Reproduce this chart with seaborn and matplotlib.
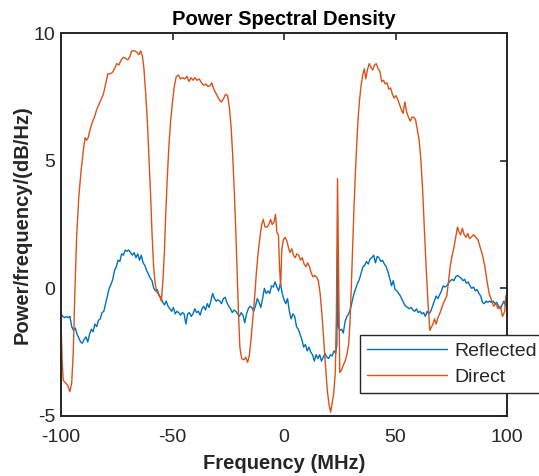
import matplotlib
matplotlib.use("Agg")
import matplotlib.pyplot as plt
import seaborn as sns
import pandas as pd

# ---------------- data ----------------
direct_x = [-100, -99.5, -99, -98, -97, -96, -95.2, -94.5, -93.8, -93, -92, -91, -90, -89.2, -88.5,
            -87.8, -87, -86, -85, -84, -83, -82, -81, -80, -79, -78, -77, -76, -75, -74, -73, -72,
            -71, -70, -69, -68.3, -67, -66, -65, -64.3, -63.5, -62.8, -62, -61.2, -60.5, -59.8,
            -59.2, -58.5, -57.8, -57, -56, -55, -54.3, -53.6, -53, -52.3, -51.6, -50.8, -50, -49.2,
            -48.3, -47.3, -46.4, -45.5, -44.5, -43.5, -42.6, -41.7, -40.8, -40, -39, -38, -37, -36,
            -35, -34, -33, -32.4, -31.5, -30.6, -29.7, -28.8, -28, -27, -26.2, -25.3, -24.5, -23.7,
            -23, -22.3, -21.6, -21, -20.4, -19.8, -19, -18, -17.2, -16.3, -15.5, -14.8, -14, -13.2,
            -12.4, -11.6, -10.8, -10, -9.3, -8.5, -7.6, -6.8, -6, -5.3, -4.5, -3.8, -3.2, -2.5, -2,
            -1.5, -1, -0.3, 0.5, 1.3, 2, 2.7, 3.5, 4.2, 5, 5.8, 6.6, 7.4, 8.2, 9, 9.8, 10.6, 11.4,
            12.2, 13, 13.8, 14.6, 15.4, 16.2, 17, 17.8, 18.6, 19.4, 20.2, 20.9, 21.6, 22.3, 23, 23.5,
            24, 24.5, 25, 25.8, 26.6, 27.4, 28.2, 29, 29.6, 30.2, 30.8, 31.4, 32, 32.6, 33.2, 33.8,
            34.5, 35.2, 36, 36.7, 37.4, 38.2, 39, 39.8, 40.6, 41.4, 42.2, 43, 43.8, 44.6, 45.4, 46.2,
            47, 47.8, 48.6, 49.4, 50.2, 51, 51.8, 52.6, 53.4, 54.2, 55, 55.8, 56.6, 57.4, 58.2, 59,
            59.8, 60.6, 61.4, 62.2, 63, 63.8, 64.6, 65.4, 66.2, 66.8, 67.5, 68.2, 69, 69.8, 70.6,
            71.4, 72.2, 73, 73.8, 74.6, 75.4, 76.2, 77, 77.8, 78.5, 79.2, 80, 80.8, 81.6, 82.4, 83.2,
            84, 85, 86, 87, 88, 89, 90, 91, 92, 93, 94, 95, 96, 97, 98, 99, 99.5, 100]
direct_y = [-1.3, -2.8, -3.6, -3.7, -3.8, -4.05, -3.7, -2.5, -0.2, 2.0, 3.6, 4.6, 5.4, 5.9, 5.8,
            5.9, 6.2, 6.5, 6.7, 7.0, 7.2, 7.4, 7.6, 8.0, 8.4, 8.4, 8.45, 8.6, 8.8, 8.75, 8.95, 9.05,
            9.0, 8.95, 9.1, 9.3, 9.3, 9.25, 9.15, 9.3, 9.1, 8.6, 7.6, 6.4, 5.0, 3.6,
            2.2, 0.9, 0.2, -0.15, -0.25, -0.5, 0.3, 1.5, 3.0, 4.4, 5.6, 6.6, 7.3, 7.9,
            8.3, 8.35, 8.2, 8.25, 8.2, 8.3, 8.1, 8.25, 8.15, 8.25, 8.15, 8.2, 8.05, 7.95,
            8.0, 7.9, 7.95, 8.05, 7.8, 7.65, 7.5, 7.35, 7.3, 7.45, 7.6, 7.55, 7.1, 6.3,
            5.2, 3.8, 2.2, 0.6, -1.0, -2.3, -2.75, -2.8, -2.7, -2.9, -2.6, -2.0, -1.2, -0.4,
            0.6, 1.4, 2.0, 2.5, 2.7, 2.4, 2.4, 2.5, 2.7, 2.5, 2.6, 2.9, 2.2, 2.1, 0.8,
            0.1, 1.5, 1.9, 2.0, 1.85, 1.6, 1.4, 1.55, 1.3, 1.2, 1.35, 1.3, 1.1, 1.2, 0.95, 0.85, 1.0, 0.85,
            0.6, 0.45, 0.5, 0.45, 0.3, -0.2, -1.0, -2.0, -3.0, -4.0, -4.55, -4.85, -4.5, -4.1, -3.3, -1.0,
            4.3, 0.5, -3.3, -3.2, -3.0, -2.85, -2.6, -2.2, -1.3, 0.1, 1.7, 3.2, 4.5, 5.6, 6.6, 7.3,
            7.9, 8.3, 8.6, 8.2, 8.55, 8.8, 8.65, 8.55, 8.75, 8.8, 8.6, 8.5, 8.1, 8.15, 8.0, 8.05,
            7.8, 7.85, 7.6, 7.45, 7.55, 7.4, 7.2, 7.0, 6.85, 7.3, 6.9, 6.7, 6.55, 6.7, 6.7, 6.6,
            6.2, 5.8, 5.0, 3.8, 2.2, 0.7, -0.6, -1.65, -1.5, -1.4, -1.2, -1.4, -1.15, -1.0, -0.8,
            -0.6, -0.45, -0.3, 0.3, 0.9, 1.3, 1.6, 2.0, 2.4, 2.2, 2.1, 2.35, 2.1, 2.0, 2.15, 1.95,
            2.0, 2.1, 2.0, 1.9, 1.6, 1.3, 0.9, 0.3, -0.2, -0.45, -0.7, -0.6, -0.8, -0.7, -1.1, -0.9, -0.3, -0.2]

reflected_x = [-100, -99.2, -98.4, -97.6, -96.8, -96, -95.2, -94.4, -93.6, -92.8, -92, -91.2, -90.4,
               -89.6, -88.8, -88, -87.2, -86.4, -85.6, -84.8, -84, -83.2, -82.4, -81.6, -80.8, -80,
               -79.2, -78.4, -77.6, -76.8, -76, -75.2, -74.4, -73.6, -72.8, -72, -71.2, -70.4, -69.6,
               -68.8, -68, -67.2, -66.4, -65.6, -64.8, -64, -63.2, -62.4, -61.6, -60.8, -60, -59.2,
               -58.4, -57.6, -56.8, -56, -55.2, -54.4, -53.6, -52.8, -52, -51.2, -50.4, -49.6, -48.8,
               -48, -47.2, -46.4, -45.6, -44.8, -44, -43.2, -42.4, -41.6, -40.8, -40, -39.2, -38.4,
               -37.6, -36.8, -36, -35.2, -34.4, -33.6, -32.8, -32, -31.2, -30.4, -29.6, -28.8, -28,
               -27.2, -26.4, -25.6, -24.8, -24, -23.2, -22.4, -21.6, -20.8, -20, -19.2, -18.4, -17.6,
               -16.8, -16, -15.2, -14.4, -13.6, -12.8, -12, -11.2, -10.4, -9.6, -8.8, -8, -7.2, -6.4,
               -5.6, -4.8, -4, -3.2, -2.4, -1.6, -0.8, 0, 0.8, 1.6, 2.4, 3.2, 4, 4.8, 5.6, 6.4, 7.2,
               8, 8.8, 9.6, 10.4, 11.2, 12, 12.8, 13.6, 14.4, 15.2, 16, 16.8, 17.6, 18.4, 19.2, 20,
               20.8, 21.6, 22.4, 23.2, 23.7, 24.0, 24.4, 25, 25.8, 26.6, 27.4, 28.2, 29, 29.8, 30.6,
               31.4, 32.2, 33, 33.8, 34.6, 35.4, 36.2, 37, 37.8, 38.6, 39.4, 40.2, 41, 41.8, 42.6,
               43.4, 44.2, 45, 45.8, 46.6, 47.4, 48.2, 49, 49.8, 50.6, 51.4, 52.2, 53, 53.8, 54.6,
               55.4, 56.2, 57, 57.8, 58.6, 59.4, 60.2, 61, 61.8, 62.6, 63.4, 64.2, 65, 65.8, 66.6,
               67.4, 68.2, 69, 69.8, 70.6, 71.4, 72.2, 73, 73.8, 74.6, 75.4, 76.2, 77, 77.8, 78.6,
               79.4, 80.2, 81, 81.8, 82.6, 83.4, 84.2, 85, 85.8, 86.6, 87.4, 88.2, 89, 89.8, 90.6,
               91.4, 92.2, 93, 93.8, 94.6, 95.4, 96.2, 97, 97.8, 98.6, 99.4, 100]
reflected_y = [-1.0, -1.1, -1.15, -1.1, -1.15, -1.1, -1.5, -1.65, -1.55, -1.8, -1.95, -2.1, -2.15,
               -2.0, -1.9, -2.1, -1.8, -1.6, -1.7, -1.4, -1.5, -1.25, -1.2, -0.95, -0.9, -0.6,
               -0.3, 0.0, 0.15, 0.35, 0.7, 0.85, 1.1, 1.05, 1.35, 1.3, 1.5, 1.45, 1.5,
               1.4, 1.3, 1.4, 1.2, 1.35, 1.1, 1.3, 1.0, 0.9, 0.7, 0.55, 0.4, 0.3,
               0.0, -0.1, -0.05, -0.3, -0.35, -0.55, -0.65, -0.5, -0.7, -0.8, -0.9, -0.75, -1.0,
               -0.9, -0.95, -1.05, -0.95, -1.0, -1.4, -1.0, -0.95, -1.1, -1.0, -0.8, -0.95, -0.9,
               -1.05, -0.8, -0.7, -0.85, -0.6, -0.75, -0.5, -0.2, -0.4, -0.5, -0.45, -0.5, -0.6,
               -0.4, -0.35, -0.55, -0.7, -0.8, -0.95, -0.85, -0.9, -1.0, -1.1, -0.95, -1.05, -1.35,
               -1.0, -0.8, -0.7, -0.75, -0.9, -0.7, -0.4, -0.55, -0.75, -0.4, 0.0, -0.2, -0.1, -0.2,
               0.1, 0.05, 0.25, 0.05, -0.1, 0.2, -0.2, -0.45, -0.6, -0.4, -0.9, -1.2, -1.0, -1.1, -1.5, -1.6, -1.8,
               -2.0, -2.3, -2.2, -2.45, -2.3, -2.5, -2.6, -2.85, -2.6, -2.75, -2.6, -2.85, -2.7, -2.55, -2.7, -2.75,
               -2.6, -2.65, -2.45, -2.55, -2.2, 1.6, -1.5, -1.65, -1.6, -1.75, -1.3, -1.1, -1.0, -0.8, -0.5,
               -0.2, 0.0, 0.2, 0.35, 0.6, 0.85, 0.9, 1.05, 0.95, 1.15, 1.2, 1.3, 1.0, 1.25, 1.2,
               1.05, 1.1, 0.95, 0.85, 0.65, 0.4, 0.1, 0.3, -0.05, -0.1, -0.2, -0.3, -0.45, -0.6, -0.7,
               -0.75, -0.8, -0.75, -0.85, -0.9, -0.8, -0.95, -0.9, -1.0, -0.95, -1.1, -0.9, -1.0, -0.9, -0.7,
               -0.5, -0.3, -0.4, -0.25, -0.1, 0.1, 0.05, 0.1, 0.2, 0.3, 0.35, 0.3, 0.45, 0.5, 0.45,
               0.4, 0.3, 0.35, 0.2, 0.25, 0.1, 0.0, 0.05, -0.1, -0.05, -0.2, -0.3, -0.55, -0.6, -0.5,
               -0.55, -0.5, -0.55, -0.5, -0.6, -0.55, -0.7, -0.8, -0.65, -0.5, -0.7, -0.6]

series_names = ["Reflected", "Direct"]
x_ticks = [-100, -50, 0, 50, 100]
y_ticks = [-5, 0, 5, 10]

# ---------------- styling ----------------
sns.set_theme(style="white")
plt.rcParams["font.family"] = ["Liberation Sans", "DejaVu Sans"]
plt.rcParams["axes.unicode_minus"] = False
AX_COLOR = "#262626"

fig = plt.figure(figsize=(5.39, 4.76), dpi=100)
ax = fig.add_axes([61 / 539, 1 - 416 / 476, 446 / 539, 383 / 476])

df_r = pd.DataFrame({"x": reflected_x, "y": reflected_y})
df_d = pd.DataFrame({"x": direct_x, "y": direct_y})
sns.lineplot(data=df_r, x="x", y="y", ax=ax, color="#0072BD", lw=1.0,
             estimator=None, sort=False, label=series_names[0])
sns.lineplot(data=df_d, x="x", y="y", ax=ax, color="#D95319", lw=1.0,
             estimator=None, sort=False, label=series_names[1])

ax.set_xlim(-100, 100)
ax.set_ylim(-5, 10)
ax.set_xticks(x_ticks)
ax.set_yticks(y_ticks)
ax.tick_params(direction="in", length=5, width=1.2, colors=AX_COLOR,
               labelsize=14, top=True, right=True)
ax.tick_params(axis="x", pad=9)
ax.tick_params(axis="y", pad=4)
for s in ax.spines.values():
    s.set_visible(True)
    s.set_color(AX_COLOR)
    s.set_linewidth(1.4)

ax.set_title("Power Spectral Density", fontsize=14.5, fontweight="bold",
             color="black", pad=6)
ax.set_xlabel("Frequency (MHz)", fontsize=14.5, fontweight="bold",
              color=AX_COLOR, labelpad=6)
ax.set_ylabel("Power/frequency/(dB/Hz)", fontsize=14.5, fontweight="bold",
              color=AX_COLOR, labelpad=1.5)

leg = ax.legend(loc="upper left", bbox_to_anchor=(0.670, 0.2115),
                fontsize=14, frameon=True, fancybox=False,
                handlelength=4.1, handletextpad=0.36, borderpad=0.38,
                labelspacing=0.42, borderaxespad=0)
leg.get_frame().set_edgecolor(AX_COLOR)
leg.get_frame().set_linewidth(1.0)
leg.get_frame().set_facecolor("white")
leg.get_frame().set_alpha(1)

fig.savefig("out.png", dpi=100)
